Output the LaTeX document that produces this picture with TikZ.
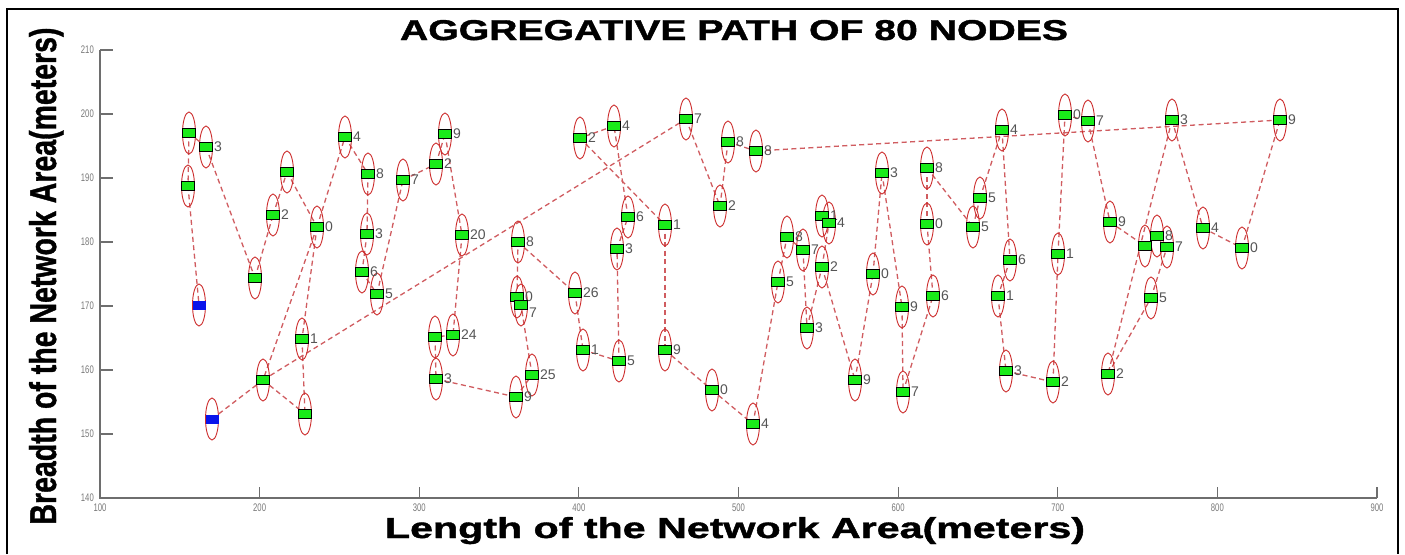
\documentclass[tikz,border=0pt]{standalone}
\usepackage{graphicx}
\usepackage{fontspec}
\setmainfont{Liberation Sans}
\newfontfamily\heavy{Liberation Sans}[BoldFeatures={FakeBold=1.2}]
\definecolor{connc}{RGB}{208,92,96}
\definecolor{ellc}{RGB}{205,45,45}
\definecolor{grn}{RGB}{25,235,25}
\definecolor{blu}{RGB}{10,20,235}
\definecolor{labc}{RGB}{85,85,85}
\definecolor{axc}{RGB}{110,110,110}
\definecolor{tickc}{RGB}{120,120,120}
\pgfdeclarelayer{back}
\pgfdeclarelayer{bg}
\pgfsetlayers{back,bg,main}
\begin{document}
\begin{tikzpicture}[x=1pt,y=-1pt,
  conn/.style={draw=connc, line width=1.3pt, dash pattern=on 5pt off 3.5pt},
  ell/.style={draw=ellc, line width=0.9pt},
  sq/.style={rectangle, draw=black, line width=0.6pt, fill=grn, minimum width=13pt, minimum height=8.5pt, inner sep=0pt},
  bsq/.style={rectangle, fill=blu, minimum width=13pt, minimum height=9pt, inner sep=0pt},
  lab/.style={text=labc, font=\fontsize{14}{14}\selectfont, inner sep=0pt, anchor=west},
  axis/.style={draw=axc, line width=1.6pt},
  tlab/.style={text=tickc, font=\fontsize{11}{11}\selectfont, inner sep=0pt}]
\useasboundingbox (0,0) rectangle (1405,554);
\begin{pgfonlayer}{back}
\fill[white] (0,0) rectangle (1405,554);
\end{pgfonlayer}
% frame
\draw[black, line width=2pt] (7,554) -- (7,9) -- (1398,9) -- (1398,554);
% axes
\draw[axis] (100,50) -- (100,498) -- (1377,498);
\foreach \v/\py in {210/50,200/114,190/178,180/242,170/306,160/370,150/434,140/498}{
  \draw[axis, line width=1.2pt] (100,\py) -- (113,\py);
  \node[tlab, anchor=east] at (94,\py) {\scalebox{0.7}[1]{\v}};
}
\foreach \v [count=\i from 0] in {100,200,300,400,500,600,700,800,900}{
  \draw[axis, line width=1.2pt] ({100+\i*159.625},498) -- ({100+\i*159.625},487);
  \node[tlab] at ({100+\i*159.625},508) {\scalebox{0.7}[1]{\v}};
}
% texts
\node[anchor=base, inner sep=0pt] (title) at (734,40) {\resizebox{668pt}{20pt}{\heavy\bfseries AGGREGATIVE PATH OF 80 NODES}};
\node[anchor=base, inner sep=0pt] (xlab) at (735,538) {\resizebox{700pt}{21pt}{\heavy\bfseries Length of the Network Area(meters)}};
\node[anchor=base, rotate=90, inner sep=0pt] (ylab) at (56,276) {\resizebox{497pt}{27pt}{\heavy\bfseries Breadth of the Network Area(meters)}};
% nodes
\foreach \n/\x/\y in {L1/189/133, L2/206/147, L3/188/186, L5/255/278, L6/273/215, L7/287/172, L8/317/227, L9/302/339, L10/263/380, L12/305/414,
 M1/345/137, M2/368/174, M3/403/180, M4/445/134, M5/436/164, M6/367/234, M7/362/272, M8/377/294, M9/462/235, M10/518/242, M11/435/337, M12/453/335, M13/436/379, M14/517/297, M15/521/305, M16/532/375, M17/516/397,
 C1/580/138, C2/614/126, C3/686/119, C4/728/142, C5/756/151, C6/628/217, C7/665/225, C8/617/249, C9/720/206, C10/787/237, C11/803/250, C12/575/293, C13/583/350, C14/619/361, C15/665/350, C16/712/390, C17/753/424, C18/778/282, C19/807/328,
 R1/822/216, R2/829/223, R3/822/267, R4/873/274, R5/882/173, R6/927/168, R7/927/224, R8/902/307, R9/933/296, R10/855/380, R11/903/392, R12/980/198, R13/973/227, R14/1002/130, R15/1010/260, R16/998/296, R17/1006/371,
 F1/1065/115, F2/1088/121, F3/1058/254, F4/1053/382, F5/1110/222, F6/1172/120, F7/1280/120, F8/1145/246, F9/1157/236, F10/1167/247, F11/1203/228, F12/1242/248, F13/1151/298, F14/1108/374}{
  \node[sq] (\n) at (\x,\y) {};
}
\node[bsq] (B1) at (199,305) {};
\node[bsq] (B2) at (212,419) {};
\begin{pgfonlayer}{bg}
\foreach \a/\b in {L1/L2, L1/L3, L3/B1, L2/L5, L5/L6, L6/L7, L7/L8, L8/M1, L8/L10, L8/L9, L9/L12, L10/L12, B2/L10, L10/C3,
 M1/M2, M2/M6, M6/M7, M7/M8, M8/M3, M3/M5, M5/M4, M4/M9, M9/M12, M12/M11, M11/M13, M13/M17, M17/M16, M16/M15, M15/M14, M14/M10, M10/C12,
 C12/C13, C13/C14, C14/C8, C8/C6, C6/C2, C2/C1, C1/C7, C7/C15, C15/C16, C16/C17, C17/C18, C18/C10, C10/C11, C11/C19, C19/R3,
 R3/R2, R2/R1, R3/R10, R10/R4, R4/R5, R5/R8, R8/R11, R11/R9, R9/R7, R7/R6, R6/R13, R13/R12, R12/R14, R14/R15, R15/R16, R16/R17, R17/F4,
 F4/F3, F3/F1, F1/F2, F2/F5, F5/F8, F6/F14, F6/F11, F11/F12, F12/F7, F7/C5, F14/F13, F13/F10, F10/F9, F9/F8, C3/C9, C9/C4, C4/C5}{
  \draw[conn] (\a.center) -- (\b.center);
}
\foreach \n in {L1,L2,L3,B1,L5,L6,L7,L8,L9,L10,B2,L12,M1,M2,M3,M4,M5,M6,M7,M8,M9,M10,M11,M12,M13,M14,M15,M16,M17,
 C1,C2,C3,C4,C5,C6,C7,C8,C9,C10,C11,C12,C13,C14,C15,C16,C17,C18,C19,
 R1,R2,R3,R4,R5,R6,R7,R8,R9,R10,R11,R12,R13,R14,R15,R16,R17,
 F1,F2,F3,F4,F5,F6,F7,F8,F9,F10,F11,F12,F13,F14}{
  \draw[ell] (\n.center) ellipse [x radius=6.5, y radius=21];
}
\foreach \n/\t in {L2/3, L6/2, L8/0, L9/1, M1/4, M2/8, M3/7, M4/9, M5/2, M6/3, M7/6, M8/5, M9/20, M10/8, M12/24, M13/3, M14/0, M16/25, M17/9,
 C1/2, C2/4, C3/7, C4/8, C5/8, C6/6, C7/1, C8/3, C9/2, C10/8, C11/7, C12/26, C13/1, C14/5, C15/9, C16/0, C17/4, C18/5, C19/3,
 R1/1, R2/4, R3/2, R4/0, R5/3, R6/8, R7/0, R8/9, R9/6, R10/9, R11/7, R12/5, R13/5, R14/4, R15/6, R16/1, R17/3,
 F1/0, F2/7, F3/1, F4/2, F5/9, F6/3, F7/9, F9/8, F10/7, F11/4, F12/0, F13/5, F14/2}{
  \node[lab] at ([xshift=8pt]\n.center) {\t};
}
\node[lab] at ([xshift=8pt, yshift=-8pt]M15.center) {7};
\end{pgfonlayer}
\end{tikzpicture}
\end{document}
